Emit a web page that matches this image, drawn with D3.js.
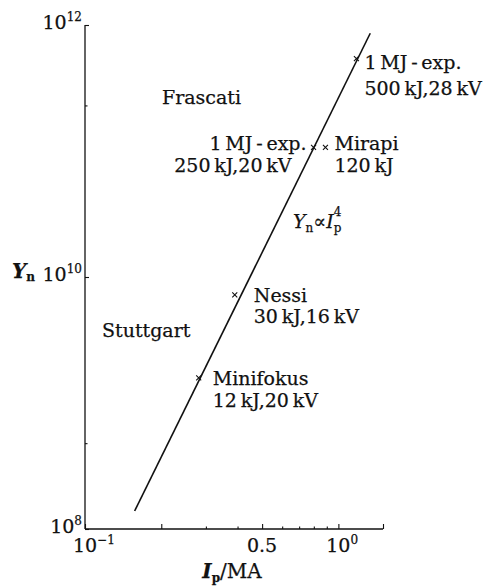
<!DOCTYPE html>
<html>
<head>
<meta charset="utf-8">
<script src="https://cdn.jsdelivr.net/npm/d3@7"></script>
<style>
  html, body { margin: 0; padding: 0; background: #fff; }
  svg { display: block; }
  text { font-family: "DejaVu Serif", "Liberation Serif", serif; fill: #111; stroke: #111; stroke-width: 0.25px; }
</style>
</head>
<body>
<svg id="chart" width="494" height="588"></svg>
<script>
// Neutron yield of plasma-focus devices versus pinch current
const deviceNames = ["Minifokus", "Nessi", "1 MJ-exp. (250 kJ)", "Mirapi", "1 MJ-exp. (500 kJ)"];
const currentMA   = [0.281, 0.390, 0.798, 0.889, 1.178];
const neutronYield = [1.58e9, 7.2e9, 1.07e11, 1.07e11, 5.4e11];

// Scaling line Yn ∝ Ip^4 (end points)
const fitCurrent = [0.157, 1.336];
const fitYield   = [1.39e8, 8.6e11];

// Axes
const xDomain = [0.1, 1.5];
const yDomain = [1e8, 1e12];
const xMajorTicks = [0.1, 0.2, 0.5, 1.0, 1.5];
const xMinorTicks = [0.3, 0.4, 0.6, 0.7, 0.8, 0.9];
const yMajorTicks = [1e8, 1e10, 1e12];
const yMinorTicks = [4.8e8, 2.3e11];

const svg = d3.select("#chart");
const x = d3.scaleLog().domain(xDomain).range([85, 383]);
const y = d3.scaleLog().domain(yDomain).range([529, 25]);

const ink = "#111";

// Axis lines (left and bottom only)
svg.append("line").attr("x1", x(xDomain[0])).attr("x2", x(xDomain[0]))
  .attr("y1", y(yDomain[1])).attr("y2", y(yDomain[0]))
  .attr("stroke", ink).attr("stroke-width", 1.3);
svg.append("line").attr("x1", x(xDomain[0])).attr("x2", x(xDomain[1]))
  .attr("y1", y(yDomain[0])).attr("y2", y(yDomain[0]))
  .attr("stroke", ink).attr("stroke-width", 1.3);

// Inward ticks
const xAxisMajor = d3.axisTop(x).tickValues(xMajorTicks).tickSize(5).tickFormat("");
const xAxisMinor = d3.axisTop(x).tickValues(xMinorTicks).tickSize(2.5).tickFormat("");
const yAxisMajor = d3.axisRight(y).tickValues(yMajorTicks).tickSize(4).tickFormat("");
const yAxisMinor = d3.axisRight(y).tickValues(yMinorTicks).tickSize(2.5).tickFormat("");
[xAxisMajor, xAxisMinor].forEach(ax => {
  const g = svg.append("g").attr("transform", `translate(0,${y(yDomain[0])})`).call(ax);
  g.select(".domain").remove();
  g.selectAll("line").attr("stroke", ink).attr("stroke-width", 1.1);
});
[yAxisMajor, yAxisMinor].forEach(ax => {
  const g = svg.append("g").attr("transform", `translate(${x(xDomain[0])},0)`).call(ax);
  g.select(".domain").remove();
  g.selectAll("line").attr("stroke", ink).attr("stroke-width", 1.1);
});

// Power-of-ten labels
function pow10Label(px, py, exp, anchorBase) {
  const t = svg.append("text").attr("y", py).attr("font-size", 19);
  t.append("tspan").text("10");
  t.append("tspan").attr("font-size", 12).attr("dy", -8).text(exp);
  const w = t.node().getComputedTextLength();
  const baseW = t.select("tspan").node().getComputedTextLength();
  if (anchorBase === "centerBase") t.attr("x", px - baseW / 2);
  else t.attr("x", px - w);
  return t;
}
// y tick labels
const yExp = {1e8: "8", 1e10: "10", 1e12: "12"};
yMajorTicks.forEach(v => pow10Label(x(xDomain[0]) - 3, y(v) + 4, yExp[v], "end"));
// x tick labels
pow10Label(x(0.1), 552, "\u22121", "centerBase");
pow10Label(x(1.0), 552, "0", "centerBase");
svg.append("text").attr("x", x(0.5)).attr("y", 552).attr("font-size", 19)
  .attr("text-anchor", "middle").text("0.5");

// Axis titles
const xt = svg.append("text").attr("y", 578).attr("font-size", 20);
xt.append("tspan").attr("font-style", "italic").attr("font-weight", "bold").text("I");
xt.append("tspan").attr("font-size", 12).attr("font-weight", "bold").attr("dy", 4).text("p");
xt.append("tspan").attr("dy", -4).text("/MA");
xt.attr("x", 232 - xt.node().getComputedTextLength() / 2);

const yt = svg.append("text").attr("x", 12).attr("y", 278).attr("font-size", 20);
yt.append("tspan").attr("font-style", "italic").attr("font-weight", "bold").text("Y");
yt.append("tspan").attr("font-size", 12).attr("font-weight", "bold").attr("dy", 3).text("n");

// Scaling line
svg.append("path")
  .datum(fitCurrent.map((c, i) => [c, fitYield[i]]))
  .attr("d", d3.line().x(d => x(d[0])).y(d => y(d[1])))
  .attr("fill", "none").attr("stroke", ink).attr("stroke-width", 1.6);

// Device markers (small crosses)
const pts = currentMA.map((c, i) => ({name: deviceNames[i], px: x(c), py: y(neutronYield[i])}));
svg.selectAll("path.mark").data(pts).join("path")
  .attr("class", "mark")
  .attr("d", d => `M${d.px - 2.5},${d.py - 2.5}L${d.px + 2.5},${d.py + 2.5}M${d.px - 2.5},${d.py + 2.5}L${d.px + 2.5},${d.py - 2.5}`)
  .attr("stroke", ink).attr("stroke-width", 1.1).attr("fill", "none");

// Device labels, placed relative to each marker
const fs = 19;
function label(px, py, lines, anchor) {
  lines.forEach(l => {
    svg.append("text").attr("x", px + l[0]).attr("y", py + l[1])
      .attr("font-size", fs).attr("text-anchor", anchor || "start").text(l[2]);
  });
}
const th = "\u2009";
const P = Object.fromEntries(pts.map(p => [p.name, p]));
label(P["Minifokus"].px, P["Minifokus"].py, [[14, 7, "Minifokus"], [14, 29, `12${th}kJ,20${th}kV`]]);
label(P["Nessi"].px, P["Nessi"].py, [[19, 7, "Nessi"], [19, 28, `30${th}kJ,16${th}kV`]]);
label(P["1 MJ-exp. (500 kJ)"].px, P["1 MJ-exp. (500 kJ)"].py,
  [[8, 10, `1${th}MJ${th}-${th}exp.`], [8, 36, `500${th}kJ,28${th}kV`]]);
label(P["1 MJ-exp. (250 kJ)"].px, P["1 MJ-exp. (250 kJ)"].py,
  [[-7, 3, `1${th}MJ${th}-${th}exp.`], [-22, 25, `250${th}kJ,20${th}kV`]], "end");
label(P["Mirapi"].px, P["Mirapi"].py, [[9, 3, "Mirapi"], [9, 25, `120${th}kJ`]]);

// Laboratory names
svg.append("text").attr("x", 162).attr("y", 104).attr("font-size", fs).text("Frascati");
svg.append("text").attr("x", 102).attr("y", 337).attr("font-size", fs).text("Stuttgart");

// Scaling law annotation: Yn ∝ Ip^4 with stacked sub/superscript
const law = svg.append("g");
let cx = 293;
const by = 228;
function piece(txt, size, dy, opts) {
  const t = law.append("text").attr("x", cx).attr("y", by + dy).attr("font-size", size).text(txt);
  if (opts && opts.italic) t.attr("font-style", "italic");
  return t.node().getComputedTextLength();
}
cx += piece("Y", 19, 0, {italic: true});
cx += piece("n", 12, 4);
cx += piece("\u221D", 19, 0);
cx += piece("I", 19, 0, {italic: true});
const subX = cx;
piece("p", 12, 4);
cx = subX;
piece("4", 12, -12);
</script>
</body>
</html>
